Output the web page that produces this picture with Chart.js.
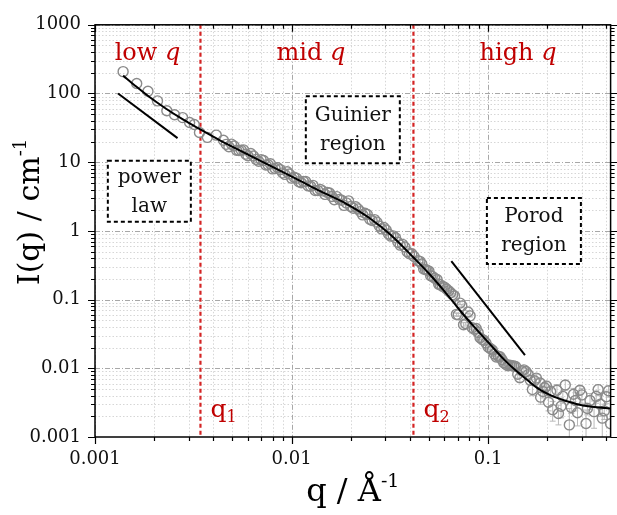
<!DOCTYPE html>
<html lang="en">
<head>
<meta charset="UTF-8" />
<title>SAXS curve regions</title>
<script src="https://cdn.jsdelivr.net/npm/chart.js"></script>
<style>
  body { margin: 0; background: #fff; }
  #wrap { width: 617px; height: 515px; }
</style>
</head>
<body>
<div id="wrap"><canvas id="saxs" width="617" height="515"></canvas></div>
<script>
  // measured points, low q
  const qLow = [0.00139, 0.00163, 0.00186, 0.00208, 0.00232, 0.00254, 0.00279, 0.00303, 0.0032, 0.0034, 0.00373, 0.00414];
  const iLow = [208, 140, 108, 78, 56, 49, 44.6, 37.8, 35.3, 27, 23, 24.8];

  // measured points, mid q (two interleaved runs)
  const qMid = [0.0045, 0.0048, 0.0051, 0.0054, 0.0057, 0.006, 0.0064, 0.0068, 0.0072, 0.0076, 0.008, 0.0085, 0.009, 0.0095, 0.010,
                0.0106, 0.0112, 0.0118, 0.0125, 0.0132, 0.014, 0.0148, 0.0156, 0.0165, 0.0175, 0.0185, 0.0195, 0.0206, 0.0218, 0.023,
                0.0243, 0.0257, 0.0272, 0.0287, 0.0303, 0.032, 0.0338, 0.0357, 0.0377, 0.0398, 0.042];
  const iMid = [20.9, 16.8, 17.2, 14.8, 15.1, 12.4, 12.3, 10.3, 10.6, 9.2, 8.0, 8.3, 7.0, 7.25, 5.87,
                5.85, 5.03, 5.25, 4.47, 3.88, 4.02, 3.40, 3.56, 2.84, 2.88, 2.35, 2.74, 2.14, 2.09, 1.71,
                1.73, 1.42, 1.34, 1.07, 1.03, 0.84, 0.795, 0.62, 0.583, 0.466, 0.423];
  const qMid2 = [0.00465, 0.00495, 0.00525, 0.00555, 0.00585, 0.0062, 0.0066, 0.007, 0.0074, 0.0078, 0.00825, 0.00875, 0.00925, 0.00975,
                 0.0103, 0.0109, 0.0115, 0.01215, 0.01285, 0.0136, 0.0144, 0.0152, 0.01605, 0.017, 0.018, 0.019, 0.02, 0.0212, 0.0224,
                 0.02365, 0.025, 0.02645, 0.02795, 0.0295, 0.03115, 0.0329, 0.03475, 0.0367, 0.03875, 0.0409];
  const iMid2 = [18.2, 18.3, 14.9, 14.9, 13.1, 13.4, 11.0, 10.9, 9.1, 9.5, 8.1, 7.8, 6.64, 6.73,
                 6.04, 5.19, 5.25, 4.52, 4.60, 3.88, 3.82, 3.64, 3.17, 3.15, 2.79, 2.56, 2.27, 2.25, 1.91,
                 1.81, 1.48, 1.46, 1.18, 1.12, 0.90, 0.846, 0.683, 0.636, 0.499, 0.466];

  // measured points, high q (with error bars)
  const qHigh = [0.044, 0.046, 0.048, 0.050, 0.052, 0.055, 0.057, 0.060, 0.063, 0.066, 0.069, 0.072, 0.075, 0.079, 0.083, 0.087, 0.091, 0.095,
                 0.1, 0.105, 0.11, 0.115, 0.12, 0.126, 0.132, 0.138, 0.145, 0.152, 0.16,
                 0.168, 0.176, 0.184, 0.185, 0.194, 0.203, 0.208, 0.213, 0.224, 0.228, 0.235, 0.24, 0.247, 0.259, 0.265, 0.272, 0.278,
                 0.285, 0.293, 0.3, 0.315, 0.32, 0.33, 0.346, 0.355, 0.363, 0.372, 0.381, 0.39, 0.4, 0.41, 0.42, 0.43];
  const iHigh = [0.368, 0.33, 0.274, 0.26, 0.218, 0.196, 0.165, 0.151, 0.134, 0.118, 0.061, 0.089, 0.043, 0.066, 0.039, 0.038, 0.0278, 0.0256,
                 0.0204, 0.0185, 0.0146, 0.0147, 0.0121, 0.0109, 0.0109, 0.0106, 0.0073, 0.0095, 0.0081,
                 0.0049, 0.0072, 0.0061, 0.0038, 0.0052, 0.0032, 0.0046, 0.0025, 0.0048, 0.0022, 0.0028, 0.0039, 0.0057, 0.0015, 0.0027, 0.0042, 0.0034,
                 0.00225, 0.0048, 0.0041, 0.00157, 0.0026, 0.0034, 0.00234, 0.0039, 0.0049, 0.0030, 0.00188, 0.0024, 0.00385, 0.0047, 0.00156, 0.0028];
  const eHigh = [0.015, 0.013, 0.011, 0.01, 0.009, 0.008, 0.007, 0.006, 0.005, 0.005, 0.003, 0.004, 0.003, 0.003, 0.002, 0.002, 0.0015, 0.0015,
                 0.0015, 0.0014, 0.0013, 0.0013, 0.0012, 0.0012, 0.0011, 0.0011, 0.0010, 0.0011, 0.0010,
                 0.0009, 0.0010, 0.0009, 0.0008, 0.0009, 0.0008, 0.0009, 0.0008, 0.0010, 0.0007, 0.0009, 0.0008, 0.0009, 0.0011, 0.0005, 0.0009, 0.0010,
                 0.0008, 0.0007, 0.0010, 0.0009, 0.0005, 0.0009, 0.0010, 0.0008, 0.0009, 0.0010, 0.0009, 0.0006, 0.0008, 0.0009, 0.0010, 0.0005];
  const qHigh2 = [0.045, 0.047, 0.049, 0.051, 0.0535, 0.056, 0.0585, 0.0615, 0.0645, 0.0675, 0.0705, 0.0735, 0.077, 0.081, 0.085, 0.089, 0.093, 0.0975,
                  0.1025, 0.1075, 0.1125, 0.1175, 0.123, 0.129, 0.135, 0.1415, 0.1485, 0.156, 0.164, 0.172, 0.19, 0.198];
  const iHigh2 = [0.36, 0.278, 0.267, 0.223, 0.205, 0.168, 0.157, 0.143, 0.126, 0.113, 0.060, 0.081, 0.0445, 0.058, 0.037, 0.0333, 0.0264, 0.0234,
                  0.0194, 0.0162, 0.015, 0.0134, 0.0115, 0.0111, 0.0108, 0.0082, 0.0092, 0.009, 0.0067, 0.0066, 0.0046, 0.0055];
  const eHigh2 = [0.014, 0.012, 0.011, 0.009, 0.008, 0.007, 0.006, 0.006, 0.005, 0.004, 0.003, 0.003, 0.002, 0.002, 0.002, 0.0015, 0.0015, 0.0015,
                  0.0014, 0.0013, 0.0013, 0.0012, 0.0012, 0.0011, 0.0011, 0.001, 0.0011, 0.001, 0.001, 0.0009, 0.0009, 0.001];

  // model fit
  const qFit = [0.00139, 0.0016, 0.0019, 0.0023, 0.0028, 0.0034, 0.0043, 0.006, 0.008, 0.011, 0.014, 0.0189, 0.025, 0.032, 0.0417,
                0.05, 0.06, 0.073, 0.085, 0.1, 0.12, 0.137, 0.16, 0.179, 0.21, 0.245, 0.3, 0.36, 0.43];
  const iFit = [182, 130, 88, 60, 42, 30.5, 21, 12.95, 8.54, 5.4, 3.79, 2.5, 1.53, 0.87, 0.41,
                0.24, 0.132, 0.066, 0.04, 0.024, 0.0136, 0.0095, 0.0066, 0.0051, 0.004, 0.0034, 0.0029, 0.0027, 0.0026];

  // slope guides
  const qPowerGuide = [0.00131, 0.00263];
  const iPowerGuide = [100, 22.4];
  const qPorodGuide = [0.065, 0.154];
  const iPorodGuide = [0.362, 0.0156];

  // region boundaries q1, q2
  const qDividers = [0.00344, 0.0417];
  const dividerNames = ['1', '2'];

  const xTickVals = [0.001, 0.01, 0.1];
  const xTickLabels = ['0.001', '0.01', '0.1'];
  const yTickVals = [0.001, 0.01, 0.1, 1, 10, 100, 1000];
  const yTickLabels = ['0.001', '0.01', '0.1', '1', '10', '100', '1000'];

  const SERIF = '"DejaVu Serif", "Liberation Serif", serif';
  const RED_TEXT = '#c00000';
  const RED_LINE = '#d42424';

  const zip = (xs, ys) => xs.map((v, i) => ({x: v, y: ys[i]}));

  function minorVals(decades, max) {
    const out = [];
    decades.forEach(d => {
      for (let k = 2; k <= 9; k++) {
        const v = k * d;
        if (v <= max) out.push(v);
      }
    });
    return out;
  }

  // draws text pieces one after another (for italic q, sub/superscripts)
  function drawRuns(ctx, runs, x, y, align) {
    let total = 0;
    runs.forEach(r => { ctx.font = r.font; total += ctx.measureText(r.t).width; });
    let cx = align === 'center' ? x - total / 2 : x;
    runs.forEach(r => {
      ctx.font = r.font;
      ctx.fillText(r.t, cx, y + (r.dy || 0));
      cx += ctx.measureText(r.t).width;
    });
  }

  function drawErrors(ctx, x, y, qs, is, es) {
    qs.forEach((q, i) => {
      const e = es[i];
      if (!e) return;
      const px = x.getPixelForValue(q);
      const top = y.getPixelForValue(is[i] + e);
      const bot = y.getPixelForValue(Math.max(is[i] - e, 0.0002));
      ctx.beginPath();
      ctx.moveTo(px, top); ctx.lineTo(px, bot);
      ctx.moveTo(px - 3, top); ctx.lineTo(px + 3, top);
      ctx.moveTo(px - 3, bot); ctx.lineTo(px + 3, bot);
      ctx.stroke();
    });
  }

  const backgroundPlugin = {
    id: 'background',
    beforeDatasetsDraw(chart) {
      const {ctx, chartArea: a, scales: {x, y}} = chart;
      ctx.save();
      ctx.beginPath();
      ctx.rect(a.left, a.top, a.right - a.left, a.bottom - a.top);
      ctx.clip();

      // minor grid
      ctx.lineWidth = 1;
      ctx.strokeStyle = '#d6d6d6';
      ctx.setLineDash([1.5, 2]);
      minorVals(xTickVals, x.max).forEach(v => {
        const p = Math.round(x.getPixelForValue(v)) + 0.5;
        ctx.beginPath(); ctx.moveTo(p, a.top); ctx.lineTo(p, a.bottom); ctx.stroke();
      });
      minorVals(yTickVals.slice(0, 6), y.max).forEach(v => {
        const p = Math.round(y.getPixelForValue(v)) + 0.5;
        ctx.beginPath(); ctx.moveTo(a.left, p); ctx.lineTo(a.right, p); ctx.stroke();
      });

      // major grid
      ctx.strokeStyle = '#a8a8a8';
      ctx.setLineDash([5, 2, 1, 2]);
      xTickVals.forEach(v => {
        const p = Math.round(x.getPixelForValue(v)) + 0.5;
        ctx.beginPath(); ctx.moveTo(p, a.top); ctx.lineTo(p, a.bottom); ctx.stroke();
      });
      yTickVals.forEach(v => {
        const p = Math.round(y.getPixelForValue(v)) + 0.5;
        ctx.beginPath(); ctx.moveTo(a.left, p); ctx.lineTo(a.right, p); ctx.stroke();
      });

      // error bars
      ctx.setLineDash([]);
      ctx.strokeStyle = '#b9b9b9';
      ctx.lineWidth = 1;
      drawErrors(ctx, x, y, qHigh, iHigh, eHigh);
      drawErrors(ctx, x, y, qHigh2, iHigh2, eHigh2);

      // q1 / q2 dividers
      ctx.strokeStyle = RED_LINE;
      ctx.lineWidth = 2.2;
      ctx.setLineDash([4, 3]);
      qDividers.forEach(q => {
        const p = x.getPixelForValue(q);
        ctx.beginPath(); ctx.moveTo(p, a.top); ctx.lineTo(p, a.bottom); ctx.stroke();
      });
      ctx.restore();
    },
    afterDatasetsDraw(chart) {
      const {ctx, chartArea: a, scales: {x, y}} = chart;
      ctx.save();

      // dashed text boxes
      const boxes = [
        {lines: ['power', 'law'], q: 0.00189, i: 3.77, w: 83, h: 61},
        {lines: ['Guinier', 'region'], q: 0.0205, i: 29.6, w: 94, h: 67},
        {lines: ['Porod', 'region'], q: 0.171, i: 1.0, w: 94, h: 66}
      ];
      boxes.forEach(b => {
        const cx = x.getPixelForValue(b.q);
        const cy = y.getPixelForValue(b.i);
        ctx.setLineDash([]);
        ctx.fillStyle = '#fff';
        ctx.fillRect(cx - b.w / 2, cy - b.h / 2, b.w, b.h);
        ctx.setLineDash([4, 3]);
        ctx.strokeStyle = '#000';
        ctx.lineWidth = 2;
        ctx.strokeRect(cx - b.w / 2, cy - b.h / 2, b.w, b.h);
        ctx.fillStyle = '#111';
        ctx.font = '20px ' + SERIF;
        ctx.textAlign = 'center';
        ctx.textBaseline = 'middle';
        ctx.fillText(b.lines[0], cx, cy - 14);
        ctx.fillText(b.lines[1], cx, cy + 15);
      });

      // region titles
      ctx.fillStyle = RED_TEXT;
      ctx.textAlign = 'left';
      ctx.textBaseline = 'alphabetic';
      const regions = [
        {t: 'low ', q: 0.00185},
        {t: 'mid ', q: 0.01256},
        {t: 'high ', q: 0.142}
      ];
      regions.forEach(r => {
        drawRuns(ctx, [
          {t: r.t, font: '24px ' + SERIF},
          {t: 'q', font: 'italic 24px ' + SERIF}
        ], x.getPixelForValue(r.q), a.top + 35, 'center');
      });

      // q1, q2
      qDividers.forEach((q, i) => {
        drawRuns(ctx, [
          {t: 'q', font: '25px ' + SERIF},
          {t: dividerNames[i], font: '16px ' + SERIF, dy: 5}
        ], x.getPixelForValue(q) + 10, a.bottom - 20, 'left');
      });
      ctx.restore();
    },
    afterDraw(chart) {
      const {ctx, chartArea: a, scales: {x, y}} = chart;
      ctx.save();
      ctx.strokeStyle = '#000';
      ctx.setLineDash([]);
      ctx.lineWidth = 1.5;
      ctx.strokeRect(a.left, a.top, a.right - a.left, a.bottom - a.top);

      ctx.lineWidth = 1.2;
      const xt = [...xTickVals.map(v => [v, 7]), ...minorVals(xTickVals, x.max).map(v => [v, 4])];
      const yt = [...yTickVals.map(v => [v, 7]), ...minorVals(yTickVals.slice(0, 6), y.max).map(v => [v, 4])];
      ctx.beginPath();
      xt.forEach(([v, len]) => {
        const p = Math.round(x.getPixelForValue(v)) + 0.5;
        ctx.moveTo(p, a.bottom); ctx.lineTo(p, a.bottom + len);
        ctx.moveTo(p, a.top); ctx.lineTo(p, a.top + len);
      });
      yt.forEach(([v, len]) => {
        const p = Math.round(y.getPixelForValue(v)) + 0.5;
        ctx.moveTo(a.left - len, p); ctx.lineTo(a.left, p);
        ctx.moveTo(a.right, p); ctx.lineTo(a.right + len, p);
      });
      ctx.stroke();

      // axis titles
      ctx.fillStyle = '#000';
      ctx.textBaseline = 'alphabetic';
      drawRuns(ctx, [
        {t: 'q / Å', font: '32px ' + SERIF},
        {t: '-1', font: '19px ' + SERIF, dy: -14}
      ], (a.left + a.right) / 2, 501, 'center');

      ctx.translate(39, 212);
      ctx.rotate(-Math.PI / 2);
      drawRuns(ctx, [
        {t: 'I(q) / cm', font: '30px ' + SERIF},
        {t: '-1', font: '18px ' + SERIF, dy: -13}
      ], 0, 0, 'center');
      ctx.restore();
    }
  };

  const pointStyle = {
    pointRadius: 5,
    pointBorderWidth: 1.4,
    pointBorderColor: '#8a8a8a',
    pointBackgroundColor: 'rgba(255,255,255,0)',
    order: 2
  };

  const ctx = document.getElementById('saxs').getContext('2d');
  new Chart(ctx, {
    type: 'scatter',
    data: {
      datasets: [
        {
          label: 'fit',
          data: zip(qFit, iFit),
          showLine: true,
          borderColor: '#000',
          borderWidth: 2,
          pointRadius: 0,
          cubicInterpolationMode: 'monotone',
          order: 0
        },
        {
          label: 'power law guide',
          data: zip(qPowerGuide, iPowerGuide),
          showLine: true,
          borderColor: '#000',
          borderWidth: 2,
          pointRadius: 0,
          order: 1
        },
        {
          label: 'Porod guide',
          data: zip(qPorodGuide, iPorodGuide),
          showLine: true,
          borderColor: '#000',
          borderWidth: 2,
          pointRadius: 0,
          order: 1
        },
        Object.assign({
          label: 'data',
          data: [...zip(qLow, iLow), ...zip(qMid, iMid), ...zip(qHigh, iHigh)]
        }, pointStyle),
        Object.assign({
          label: 'data (second run)',
          data: [...zip(qMid2, iMid2), ...zip(qHigh2, iHigh2)]
        }, pointStyle)
      ]
    },
    options: {
      responsive: false,
      animation: false,
      layout: { padding: { top: 15, right: 4, left: 0, bottom: 0 } },
      plugins: { legend: { display: false }, tooltip: { enabled: false } },
      scales: {
        x: {
          type: 'logarithmic',
          min: 0.001,
          max: 0.42,
          grid: { display: false, drawTicks: false },
          border: { display: false },
          afterBuildTicks: (scale) => { scale.ticks = xTickVals.map(v => ({value: v})); },
          afterFit: (scale) => { scale.height = 78; },
          ticks: {
            autoSkip: false,
            maxRotation: 0,
            padding: 12,
            color: '#111',
            font: { family: SERIF, size: 18 },
            callback: (v, i) => xTickLabels[i]
          }
        },
        y: {
          type: 'logarithmic',
          min: 0.001,
          max: 1000,
          grid: { display: false, drawTicks: false },
          border: { display: false },
          afterBuildTicks: (scale) => { scale.ticks = yTickVals.map(v => ({value: v})); },
          afterFit: (scale) => { scale.width = 95; },
          ticks: {
            autoSkip: false,
            padding: 14,
            color: '#111',
            font: { family: SERIF, size: 18 },
            callback: (v, i) => yTickLabels[i]
          }
        }
      }
    },
    plugins: [backgroundPlugin]
  });
</script>
</body>
</html>
